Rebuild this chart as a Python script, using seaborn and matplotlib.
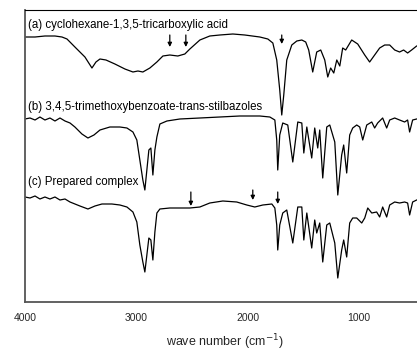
import numpy as np
import pandas as pd
import matplotlib
matplotlib.use("Agg")
import matplotlib.pyplot as plt
import seaborn as sns

# espectros IR (numero de onda en cm-1, transmitancia en unidades arbitrarias con desplazamiento)
wn_a = [4000, 3910, 3821, 3731, 3668, 3623, 3552, 3462, 3399, 3363, 3327, 3273, 3193, 3103,
        3031, 2986, 2942, 2879, 2816, 2762, 2700, 2628, 2565, 2520, 2430, 2341, 2251, 2134,
        2027, 1892, 1820, 1775, 1740, 1713, 1695, 1677, 1650, 1605, 1560, 1515, 1480, 1453,
        1417, 1381, 1345, 1309, 1282, 1256, 1228, 1201, 1174, 1148, 1121, 1067, 1013, 950,
        906, 861, 816, 771, 726, 681, 637, 601, 565, 529, 484, 440]
t_a = [265, 265, 266, 266, 265, 263, 255, 245, 234, 240, 243, 242, 238, 233,
       230, 231, 230, 234, 240, 246, 247, 246, 248, 253, 262, 266, 267, 268,
       267, 265, 263, 259, 242, 212, 187, 207, 242, 257, 261, 262, 260, 252,
       230, 250, 252, 242, 225, 234, 229, 242, 236, 254, 252, 262, 258, 247,
       240, 247, 254, 257, 257, 252, 250, 252, 249, 252, 256, 257]

wn_b = [4000, 3955, 3910, 3866, 3821, 3776, 3731, 3686, 3641, 3596, 3552, 3489, 3435, 3381,
        3327, 3238, 3148, 3085, 3031, 2996, 2969, 2942, 2924, 2906, 2888, 2870, 2852, 2834,
        2816, 2789, 2726, 2610, 2430, 2251, 2072, 1892, 1802, 1757, 1740, 1731, 1713, 1686,
        1641, 1596, 1551, 1515, 1497, 1470, 1426, 1399, 1372, 1354, 1327, 1291, 1264, 1219,
        1192, 1157, 1139, 1112, 1085, 1058, 1022, 995, 968, 932, 887, 861, 834, 789, 753,
        726, 681, 637, 592, 565, 547, 520, 484, 440]
t_b = [183, 184, 182, 185, 182, 184, 181, 184, 181, 179, 175, 168, 164, 167,
       172, 175, 175, 174, 170, 162, 142, 122, 112, 132, 152, 154, 127, 152,
       165, 178, 181, 183, 184, 185, 186, 186, 185, 182, 162, 132, 167, 179,
       177, 140, 180, 179, 149, 175, 144, 174, 154, 172, 124, 175, 177, 160,
       107, 147, 157, 129, 167, 174, 177, 175, 162, 177, 180, 174, 179, 184, 174,
       182, 184, 182, 180, 182, 170, 182, 183, 184]

wn_c = [4000, 3955, 3910, 3866, 3821, 3776, 3731, 3686, 3641, 3596, 3507, 3435, 3372, 3309,
        3220, 3148, 3085, 3031, 2996, 2969, 2942, 2924, 2906, 2888, 2870, 2852, 2834, 2816,
        2789, 2700, 2610, 2520, 2430, 2341, 2224, 2099, 2009, 1937, 1865, 1784, 1757, 1740,
        1731, 1713, 1686, 1650, 1596, 1551, 1515, 1497, 1470, 1426, 1399, 1381, 1354, 1327,
        1291, 1264, 1219, 1192, 1157, 1139, 1112, 1085, 1058, 1022, 977, 950, 923, 887, 843,
        816, 789, 753, 726, 681, 637, 592, 565, 547, 520, 484, 440]
t_c = [105, 104, 106, 103, 105, 103, 105, 102, 103, 100, 96, 93, 96, 98,
       98, 97, 95, 90, 80, 57, 40, 30, 47, 64, 62, 42, 70, 89,
       93, 94, 94, 94, 95, 99, 101, 100, 97, 95, 97, 98, 94, 77,
       52, 77, 89, 92, 59, 95, 95, 62, 89, 54, 82, 69, 79, 40,
       77, 79, 59, 24, 52, 62, 45, 79, 84, 84, 79, 84, 94, 89, 90,
       85, 95, 85, 97, 100, 99, 100, 99, 87, 100, 102, 103]

etiquetas = ["(a) cyclohexane-1,3,5-tricarboxylic acid",
             "(b) 3,4,5-trimethoxybenzoate-trans-stilbazoles",
             "(c) Prepared complex"]
etiqueta_y = [277, 195, 120]

# flechas: (numero de onda, punta, cola)
flechas = [(2700, 255, 267), (2556, 255, 267), (1695, 258, 267),
           (2511, 96, 110), (1955, 102, 112), (1731, 98, 110)]

df = pd.concat([
    pd.DataFrame({"wn": wn_a, "T": t_a, "muestra": "a"}),
    pd.DataFrame({"wn": wn_b, "T": t_b, "muestra": "b"}),
    pd.DataFrame({"wn": wn_c, "T": t_c, "muestra": "c"}),
])

sns.set_style("white")
plt.rcParams["font.family"] = ["Liberation Sans", "DejaVu Sans"]

fig = plt.figure(figsize=(4.17, 3.52), dpi=100)
ax = fig.add_axes([25 / 417, 50 / 352, 401 / 417, 292 / 352])

sns.lineplot(data=df, x="wn", y="T", units="muestra", estimator=None, color="black",
             linewidth=0.9, ax=ax)

for txt, yy in zip(etiquetas, etiqueta_y):
    ax.text(3975, yy, txt, fontsize=8.3, va="center", ha="left", color="black")

for w, tip, tail in flechas:
    ax.annotate("", xy=(w, tip), xytext=(w, tail),
                arrowprops=dict(arrowstyle="-|>", color="black", lw=0.9, mutation_scale=6,
                                shrinkA=0, shrinkB=0))

ax.set_xlim(4000, 400)
ax.set_ylim(0, 292)
ax.set_xticks([4000, 3000, 2000, 1000])
ax.set_yticks([])
ax.tick_params(axis="x", length=0, pad=8, labelsize=7.5)
ax.set_xlabel("wave number (cm$^{-1}$)", fontsize=9, labelpad=7)
ax.set_ylabel("")
for s in ["left", "bottom"]:
    ax.spines[s].set_color("#555555")
    ax.spines[s].set_linewidth(1.3)
ax.spines["top"].set_color("black")
ax.spines["top"].set_linewidth(0.8)
ax.spines["right"].set_visible(False)

fig.savefig("out.png", dpi=100)
